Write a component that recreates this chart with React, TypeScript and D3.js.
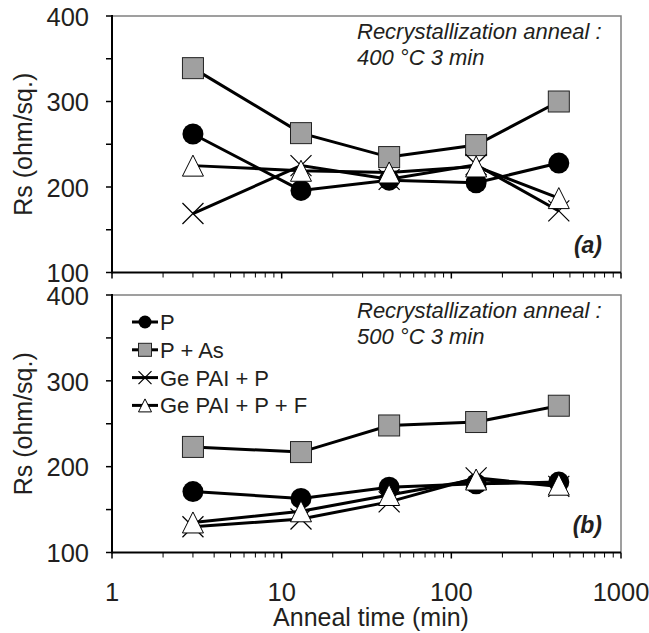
import { useMemo } from 'react';
import * as d3 from 'd3';

// anneal times (min), shared by both panels
const TIMES = [3, 13, 43, 140, 430];
const SERIES_NAMES = ['P', 'P + As', 'Ge PAI + P', 'Ge PAI + P + F'];
const MARKERS = ['circle', 'square', 'cross', 'triangle'];

// (a) recrystallization 400 °C 3 min
const A_P = [262, 196, 208, 205, 228];
const A_P_AS = [339, 263, 235, 249, 300];
const A_GE_P = [169, 225, 209, 226, 172];
const A_GE_P_F = [225, 219, 217, 224, 187];

// (b) recrystallization 500 °C 3 min
const B_P = [171, 163, 176, 180, 182];
const B_P_AS = [223, 217, 248, 252, 271];
const B_GE_P = [130, 139, 159, 187, 177];
const B_GE_P_F = [135, 148, 167, 185, 179];

const X_TICKS = [1, 10, 100, 1000];
const Y_TICKS = [100, 200, 300, 400];
const Y_MINOR = [150, 250, 350];

const W = 649;
const H = 633;
const LEFT = 112;
const RIGHT = 621;
const FONT = '"Liberation Sans", Arial, sans-serif';
const TEXT = '#231f20';

function Marker({ type, x, y, s }: { type: string; x: number; y: number; s: number }) {
  const h = s / 2;
  if (type === 'circle') return <circle cx={x} cy={y} r={h} fill="#000" />;
  if (type === 'square')
    return <rect x={x - h} y={y - h} width={s} height={s} fill="#a0a0a0" stroke="#222" strokeWidth={1} />;
  if (type === 'triangle')
    return (
      <path
        d={`M${x},${y - h}L${x + h},${y + h}L${x - h},${y + h}Z`}
        fill="#fff"
        stroke="#000"
        strokeWidth={1}
      />
    );
  return (
    <path d={`M${x - h},${y - h}L${x + h},${y + h}M${x - h},${y + h}L${x + h},${y - h}`} stroke="#000" strokeWidth={1.2} />
  );
}

type PanelProps = {
  top: number;
  bottom: number;
  series: number[][];
  temp: string;
  tag: string;
  showXLabels: boolean;
  showLegend: boolean;
};

function Panel({ top, bottom, series, temp, tag, showXLabels, showLegend }: PanelProps) {
  const x = useMemo(() => d3.scaleLog().domain([1, 1000]).range([LEFT, RIGHT]), []);
  const y = useMemo(() => d3.scaleLinear().domain([100, 400]).range([bottom, top]), [top, bottom]);
  const line = d3
    .line<number>()
    .x((_, i) => x(TIMES[i]))
    .y((d) => y(d));

  const minorX: number[] = [];
  for (const dec of [1, 10, 100]) for (let k = 2; k <= 9; k++) minorX.push(dec * k);

  return (
    <g>
      {/* frame top/right */}
      <path d={`M${LEFT},${top}H${RIGHT}V${bottom}`} fill="none" stroke="#808080" strokeWidth={1.5} />

      {/* y ticks */}
      {[...Y_TICKS, ...Y_MINOR].map((t) => (
        <line key={'yt' + t} x1={LEFT - 6} x2={LEFT} y1={y(t)} y2={y(t)} stroke="#000" strokeWidth={1.5} />
      ))}
      {Y_TICKS.map((t) => (
        <text
          key={'yl' + t}
          x={89}
          y={y(t)}
          dy="0.38em"
          textAnchor="end"
          fontFamily={FONT}
          fontSize={25.5}
          fill={TEXT}
        >
          {t}
        </text>
      ))}

      {/* x ticks */}
      {minorX.map((t) => (
        <line key={'xm' + t} x1={x(t)} x2={x(t)} y1={bottom} y2={bottom + 5} stroke="#000" strokeWidth={1} />
      ))}
      {X_TICKS.map((t) => (
        <line key={'xt' + t} x1={x(t)} x2={x(t)} y1={bottom} y2={bottom + 6} stroke="#000" strokeWidth={1.5} />
      ))}
      {showXLabels &&
        X_TICKS.map((t) => (
          <text key={'xl' + t} x={x(t)} y={601} textAnchor="middle" fontFamily={FONT} fontSize={25.5} fill={TEXT}>
            {t}
          </text>
        ))}

      {/* axes */}
      <line x1={LEFT} x2={LEFT} y1={top - 1} y2={bottom + 1} stroke="#000" strokeWidth={2} />
      <line x1={LEFT} x2={RIGHT} y1={bottom} y2={bottom} stroke="#000" strokeWidth={2} />

      {/* y title */}
      <text
        transform={`translate(23,${(top + bottom) / 2}) rotate(-90)`}
        dy="0.36em"
        textAnchor="middle"
        fontFamily={FONT}
        fontSize={25}
        fill={TEXT}
      >
        Rs (ohm/sq.)
      </text>

      {/* series */}
      {series.map((vals, si) => (
        <g key={'s' + si}>
          <path d={line(vals) ?? ''} fill="none" stroke="#000" strokeWidth={3} />
          {vals.map((v, i) => (
            <Marker key={i} type={MARKERS[si]} x={x(TIMES[i])} y={y(v)} s={21} />
          ))}
        </g>
      ))}

      {/* annotation */}
      <text fontFamily={FONT} fontSize={22} fontStyle="italic" fill={TEXT}>
        <tspan x={357} y={top + 23}>
          Recrystallization anneal :
        </tspan>
        <tspan x={357} y={top + 49}>
          {temp} °C 3 min
        </tspan>
      </text>
      <text
        x={602}
        y={bottom - 20}
        textAnchor="end"
        fontFamily={FONT}
        fontSize={23}
        fontStyle="italic"
        fontWeight="bold"
        fill={TEXT}
      >
        {tag}
      </text>

      {showLegend &&
        SERIES_NAMES.map((name, i) => {
          const ly = top + 27 + i * 27.8;
          return (
            <g key={'lg' + i}>
              <line x1={132} x2={158} y1={ly} y2={ly} stroke="#000" strokeWidth={3} />
              <Marker type={MARKERS[i]} x={145} y={ly} s={13} />
              <text x={160} y={ly} dy="0.36em" fontFamily={FONT} fontSize={22} fill={TEXT}>
                {name}
              </text>
            </g>
          );
        })}
    </g>
  );
}

export default function App() {
  return (
    <svg
      width={W}
      height={H}
      viewBox={`0 0 ${W} ${H}`}
      style={{ position: 'absolute', left: 0, top: 0, background: '#fff' }}
    >
      <Panel
        top={16}
        bottom={272.5}
        series={[A_P, A_P_AS, A_GE_P, A_GE_P_F]}
        temp="400"
        tag="(a)"
        showXLabels={false}
        showLegend={false}
      />
      <Panel
        top={295}
        bottom={552.5}
        series={[B_P, B_P_AS, B_GE_P, B_GE_P_F]}
        temp="500"
        tag="(b)"
        showXLabels={true}
        showLegend={true}
      />
      <text x={371} y={626} textAnchor="middle" fontFamily={FONT} fontSize={25} fill={TEXT}>
        Anneal time (min)
      </text>
    </svg>
  );
}
